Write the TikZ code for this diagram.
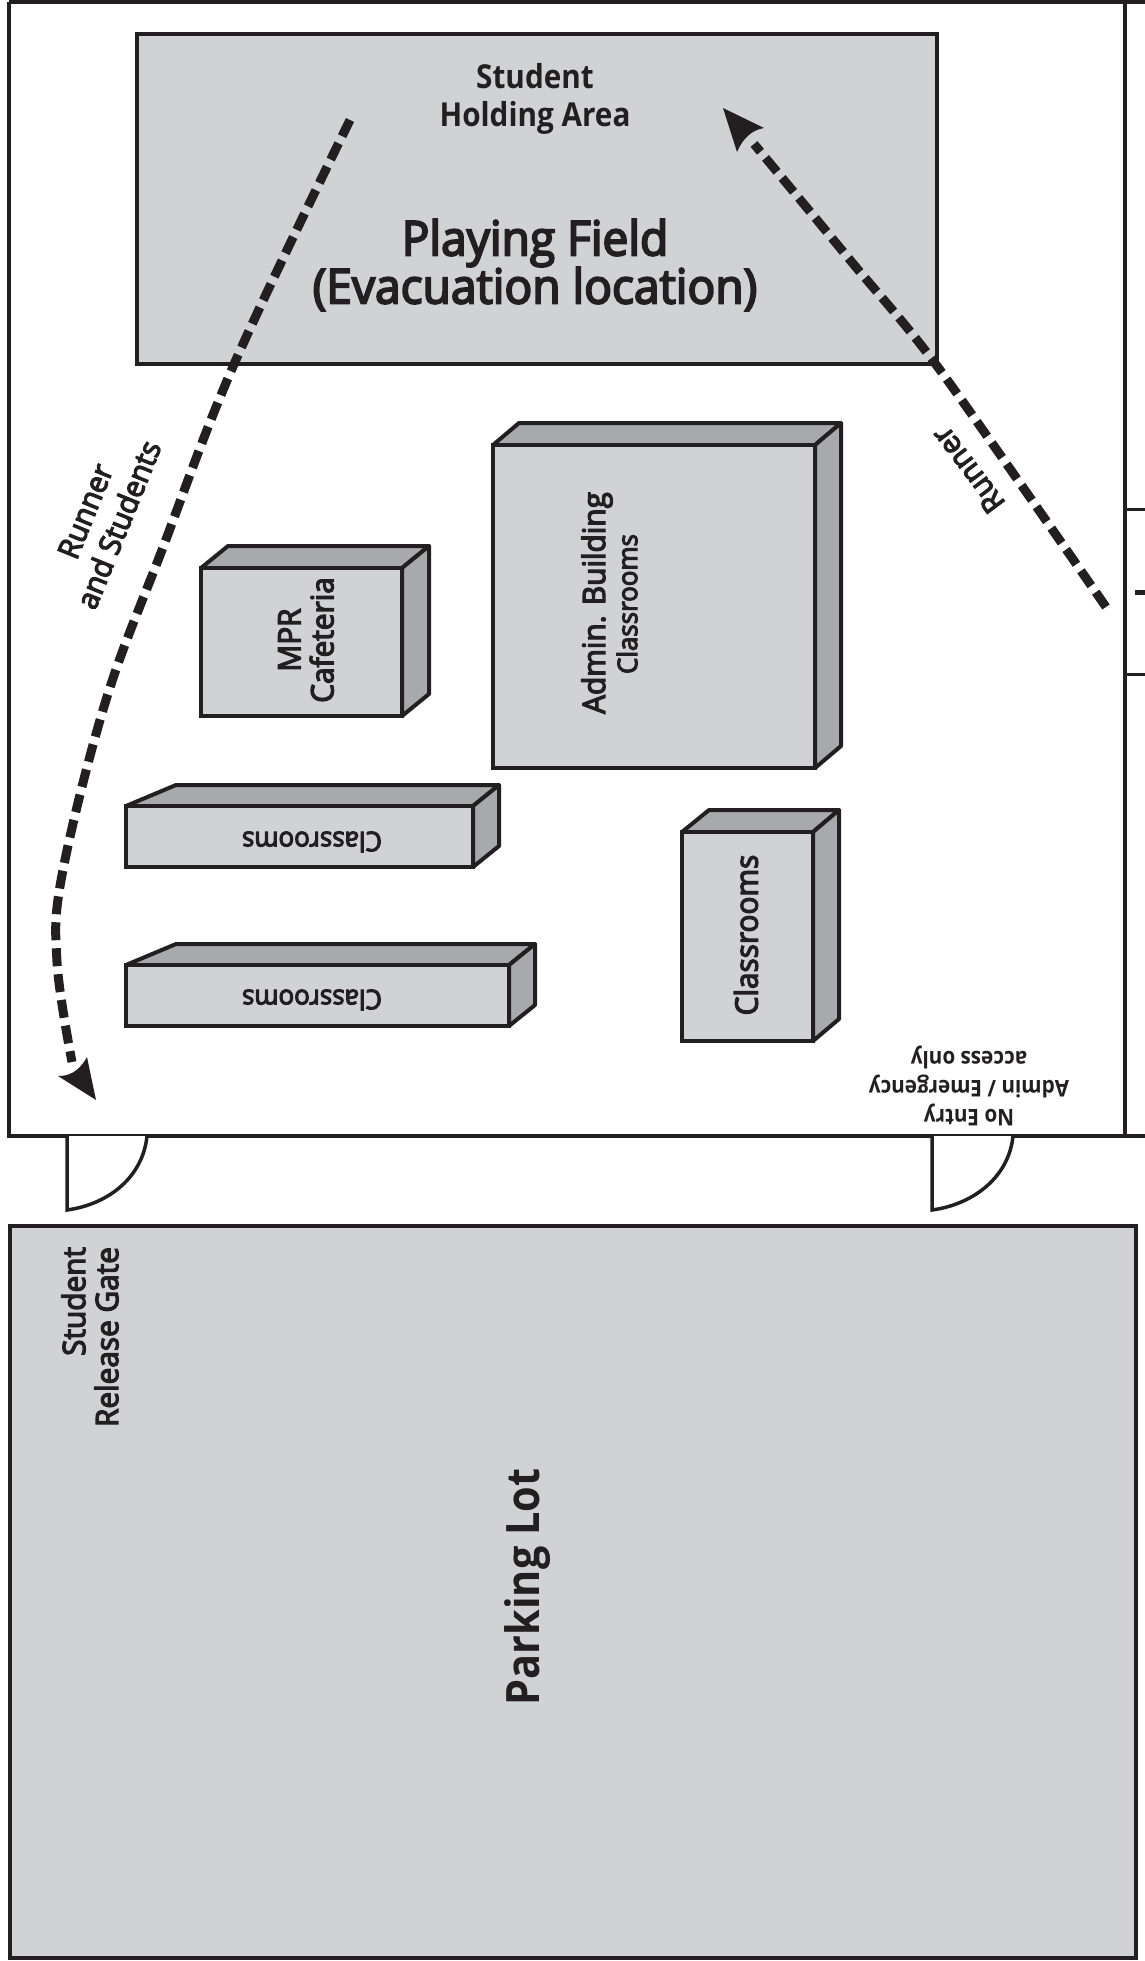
\documentclass[tikz,border=0pt]{standalone}
\usepackage{fontspec}
\setmainfont{Open Sans}
\newfontfamily\semi{Open Sans}[FakeBold=4,FakeStretch=0.96]
\newfontfamily\heavy{Open Sans}[UprightFont=* Bold,FakeStretch=0.9]
\usetikzlibrary{calc}
\definecolor{ink}{HTML}{231F20}
\definecolor{lightg}{HTML}{D0D2D4}
\definecolor{darkg}{HTML}{A7A9AC}
\tikzset{
  wall/.style={draw=ink,line width=4pt,line join=miter},
  slab/.style={draw=ink,fill=lightg,line width=4pt},
  face/.style={draw=ink,fill=darkg,line width=4pt,line join=round},
  gate/.style={draw=ink,fill=white,line width=3.5pt},
  route/.style={draw=ink,line width=9pt,dash pattern=on 18pt off 8pt},
  tiphead/.style={fill=ink,draw=none},
  lab/.style={text=ink,inner sep=0pt,align=center},
}
\newcommand{\fs}[2]{\semi\fontsize{#1}{#2}\selectfont}
\newcommand{\fh}[2]{\heavy\fontsize{#1}{#2}\selectfont}
% x1 y1 x2 y2 : front face; dl: back-left shift, dr: back-right shift, up: rise
\newcommand{\bldg}[7]{%
  \draw[face] (#1,#2) -- (#1+#5,#2-#7) -- (#3+#6,#2-#7) -- (#3,#2) -- cycle;
  \draw[face] (#3,#2) -- (#3+#6,#2-#7) -- (#3+#6,#4-#7) -- (#3,#4) -- cycle;
  \draw[slab] (#1,#2) rectangle (#3,#4);
}
\begin{document}
\begin{tikzpicture}[x=1pt,y=-1pt]
\useasboundingbox (0,0) rectangle (1145,1961);
% outer site
\draw[wall] (9,2) -- (1145,2);
\draw[wall] (9,2) -- (9,1136) -- (1145,1136);
\draw[wall] (1125,0) -- (1125,1136);
\draw[draw=ink,line width=3pt] (1125,509) -- (1145,509);
\draw[draw=ink,line width=3pt] (1125,674) -- (1145,674);
\draw[draw=ink,line width=5pt] (1135,592) -- (1145,592);
% field
\draw[slab] (137,34) rectangle (937,364);
% parking
\draw[slab] (10,1226) rectangle (1136,1958);
% gates
\draw[gate] (67,1136) -- (67,1210) .. controls (110,1204) and (143,1176) .. (147,1136);
\draw[gate] (932,1136) -- (932,1210) .. controls (975,1204) and (1009,1176) .. (1013,1136);
% buildings
\bldg{493}{445}{815}{768}{26}{26}{22}
\bldg{201}{568}{402}{716}{27}{27}{22}
\bldg{126}{806}{473}{867}{50}{26}{21}
\bldg{126}{965}{509}{1026}{50}{26}{21}
\bldg{682}{832}{813}{1041}{27}{26}{22}
% routes
\coordinate (rsA) at (350,120);
\coordinate (rsB) at (72,1062);
\draw[route] plot[smooth,tension=0.6] coordinates {(rsA) (235,362) (162,550) (106,700) (62,875) (57,962) (rsB)};
\fill[tiphead] (96,1100) -- (58,1076) .. controls (68,1076) and (78,1073) .. (87,1057) -- cycle;
\coordinate (rA) at (1106,607);
\coordinate (rB) at (754,144);
\draw[route] plot[smooth,tension=0.5] coordinates {(rA) (940,370) (850,260) (rB)};
\fill[tiphead] (723,108) -- (764,128) .. controls (752,130) and (743,138) .. (737,152) -- cycle;
% labels
\node[lab,font=\fh{33}{38}] (hold) at (535,99) {Student\\Holding Area};
\node[lab,font=\fs{48}{48}] (field) at (535,265) {Playing Field\\(Evacuation location)};
\node[lab,rotate=68,font=\fs{30}{36}] (rs) at (102,518) {Runner\\and Students};
\node[lab,rotate=127,font=\fs{30}{30}] (runner) at (968,470) {Runner};
\node[lab,rotate=90,font=\fs{31}{33}] (mpr) at (306,640) {MPR\\Cafeteria};
\node[lab,rotate=90,font=\fs{31}{31}] (adm) at (597,603) {Admin. Building};
\node[lab,rotate=90,font=\fs{27}{27}] (admc) at (627,604) {Classrooms};
\node[lab,rotate=180,font=\fs{27}{27}] (c1) at (312,842) {Classrooms};
\node[lab,rotate=180,font=\fs{27}{27}] (c2) at (312,1000) {Classrooms};
\node[lab,rotate=90,font=\fs{31}{31}] (c3) at (746,935) {Classrooms};
\node[lab,rotate=180,font=\fh{23}{29}] (noentry) at (969,1086) {No Entry\\Admin / Emergency\\access only};
\node[lab,rotate=90,align=right,font=\fs{31}{33}] (release) at (90,1337) {Student\\Release Gate};
\node[lab,rotate=90,font=\fh{46}{46}] (park) at (528,1587) {Parking Lot};
\end{tikzpicture}
\end{document}
